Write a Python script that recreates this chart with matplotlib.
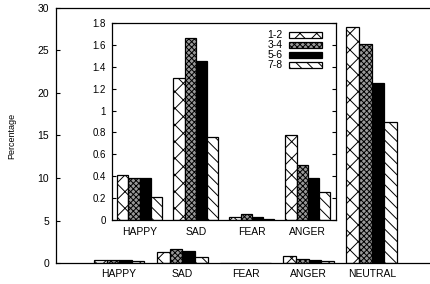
import numpy as np
import matplotlib
matplotlib.use('Agg')
import matplotlib.pyplot as plt

plt.rcParams['font.family'] = ['Liberation Sans', 'DejaVu Sans']
plt.rcParams['hatch.linewidth'] = 0.7

# Data
emotions = ['HAPPY', 'SAD', 'FEAR', 'ANGER', 'NEUTRAL']
groups = ['1-2', '3-4', '5-6', '7-8']
main_vals = {
    '1-2': [0.41, 1.30, 0.025, 0.78, 27.8],
    '3-4': [0.38, 1.66, 0.055, 0.50, 25.8],
    '5-6': [0.38, 1.45, 0.025, 0.38, 21.2],
    '7-8': [0.21, 0.76, 0.005, 0.26, 16.6],
}
main_yticks = [0, 5, 10, 15, 20, 25, 30]
inset_emotions = ['HAPPY', 'SAD', 'FEAR', 'ANGER']
inset_yticks = [0, 0.2, 0.4, 0.6, 0.8, 1, 1.2, 1.4, 1.6, 1.8]
inset_yticklabels = ['0', '0.2', '0.4', '0.6', '0.8', '1', '1.2', '1.4', '1.6', '1.8']

styles = {
    '1-2': dict(facecolor='white', hatch='xx'),
    '3-4': dict(facecolor='0.6', hatch='xxxxxx'),
    '5-6': dict(facecolor='black', hatch=None),
    '7-8': dict(facecolor='white', hatch='\\\\\\'),
}
offsets = [-0.3, -0.1, 0.1, 0.3]
width = 0.2

fig = plt.figure(figsize=(4.31, 2.84), dpi=100)

# main axes (right edge runs just past the figure)
ax = fig.add_axes([0.130, 0.0739, 0.879, 0.898])
x = np.arange(len(emotions))
for g, off in zip(groups, offsets):
    ax.bar(x + off, main_vals[g], width, edgecolor='black', linewidth=0.9, **styles[g])
ax.set_xlim(-1, 5)
ax.set_ylim(0, 30)
ax.set_yticks(main_yticks)
ax.set_xticks(x)
ax.set_xticklabels(emotions, fontsize=7.5)
ax.tick_params(axis='y', direction='in', length=3, labelsize=7.5, pad=5, right=True)
ax.tick_params(axis='x', length=0, pad=4)
ax.set_ylabel('Percentage', fontsize=6.5, labelpad=15)
for s in ax.spines.values():
    s.set_linewidth(0.9)

# inset axes
ins = fig.add_axes([0.259, 0.2254, 0.5204, 0.6937])
xi = np.arange(len(inset_emotions))
for g, off in zip(groups, offsets):
    ins.bar(xi + off, main_vals[g][:4], width, edgecolor='black', linewidth=0.9,
            label=g, **styles[g])
ins.set_xlim(-0.5, 3.5)
ins.set_ylim(0, 1.8)
ins.set_yticks(inset_yticks)
ins.set_yticklabels(inset_yticklabels)
ins.set_xticks(xi)
ins.set_xticklabels(inset_emotions, fontsize=7.5)
ins.tick_params(axis='y', direction='in', length=3, labelsize=7, pad=4, right=True)
ins.tick_params(axis='x', length=0, pad=5)
for s in ins.spines.values():
    s.set_linewidth(0.9)

ins.legend(loc='upper right', bbox_to_anchor=(0.97, 1.0), frameon=False,
           markerfirst=False, fontsize=7.5, handlelength=3.2, handleheight=0.5,
           labelspacing=0.0, handletextpad=0.6, borderpad=0.2)

fig.savefig('out.png', dpi=100)
